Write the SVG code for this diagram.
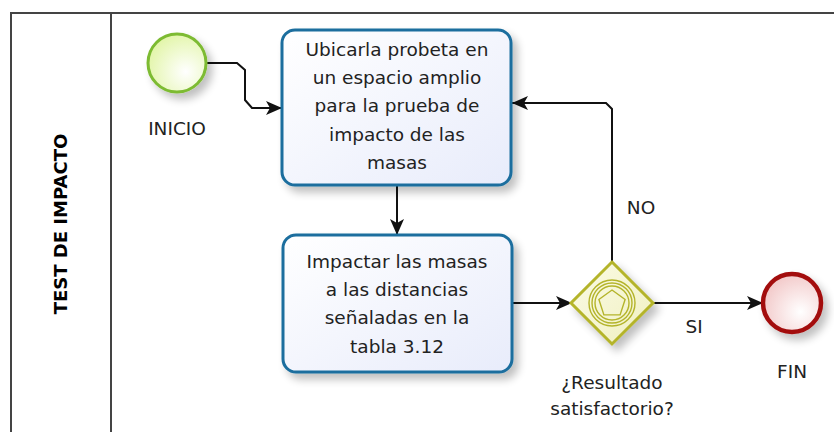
<svg xmlns="http://www.w3.org/2000/svg" width="834" height="432" viewBox="0 0 834 432">
<style>
text{font-family:"DejaVu Sans","Liberation Sans",sans-serif;fill:#222;}
.t{font-size:18.5px;text-anchor:middle;}
.lbl{font-size:18.5px;text-anchor:middle;}
.task{fill:url(#tg);stroke:#1b6e9e;stroke-width:3;}
.conn{fill:none;stroke:#111;stroke-width:2;}
.gw{fill:none;stroke:#b4b42a;stroke-width:1.4;}
</style>
<defs>
<linearGradient id="tg" x1="0" y1="0" x2="1" y2="1"><stop offset="0" stop-color="#ffffff"/><stop offset="1" stop-color="#e8ecfb"/></linearGradient>
<radialGradient id="sg" cx="0.65" cy="0.65" r="0.7"><stop offset="0" stop-color="#ffffff"/><stop offset="1" stop-color="#e2f5a8"/></radialGradient>
<radialGradient id="eg" cx="0.65" cy="0.65" r="0.7"><stop offset="0" stop-color="#ffffff"/><stop offset="1" stop-color="#f2c8c8"/></radialGradient>
<linearGradient id="gg" x1="0" y1="0" x2="1" y2="1"><stop offset="0" stop-color="#fbfbe6"/><stop offset="1" stop-color="#f0f0c0"/></linearGradient>
<filter id="sh" x="-20%" y="-20%" width="150%" height="150%"><feGaussianBlur in="SourceAlpha" stdDeviation="4"/><feOffset dx="5" dy="6"/><feComponentTransfer><feFuncA type="linear" slope="0.25"/></feComponentTransfer><feMerge><feMergeNode/><feMergeNode in="SourceGraphic"/></feMerge></filter>
<marker id="ar" viewBox="0 0 16 14" refX="16" refY="7" markerWidth="16" markerHeight="14" markerUnits="userSpaceOnUse" orient="auto"><path d="M0,0 L16,7 L0,14 L4,7 Z" fill="#111"/></marker>
</defs>
<g id="pool">
<path d="M11,432 L11,13 L834,13" fill="none" stroke="#444" stroke-width="2"/>
<line x1="111" y1="13" x2="111" y2="432" stroke="#444" stroke-width="2"/>
<text transform="translate(67,224) rotate(-90)" style="font-size:18px;font-weight:bold;text-anchor:middle;fill:#000">TEST DE IMPACTO</text>
</g>
<g id="connectors">
<path class="conn" d="M207,63 L237,63 L245,70 L245,100 L252,108 L282,108" marker-end="url(#ar)"/>
<path class="conn" d="M397,186 L397,235" marker-end="url(#ar)"/>
<path class="conn" d="M513,303 L572,303" marker-end="url(#ar)"/>
<path class="conn" d="M612,262 L612,109 L606,103 L512,103" marker-end="url(#ar)"/>
<path class="conn" d="M652,303 L763,303" marker-end="url(#ar)"/>
<text class="lbl" x="641" y="214">NO</text>
<text class="lbl" x="694" y="333">SI</text>
</g>
<g id="inicio">
<circle cx="177" cy="63" r="29" fill="url(#sg)" stroke="#7dbb32" stroke-width="3" filter="url(#sh)"/>
<text class="lbl" x="177" y="135">INICIO</text>
</g>
<g id="task1">
<rect class="task" x="282" y="30" width="229" height="155" rx="13" filter="url(#sh)"/>
<text class="t" x="397" y="56">Ubicarla probeta en</text>
<text class="t" x="397" y="84">un espacio amplio</text>
<text class="t" x="397" y="112">para la prueba de</text>
<text class="t" x="397" y="141">impacto de las</text>
<text class="t" x="397" y="169">masas</text>
</g>
<g id="task2">
<rect class="task" x="283" y="235" width="229" height="137" rx="13" filter="url(#sh)"/>
<text class="t" x="397" y="268">Impactar las masas</text>
<text class="t" x="397" y="296">a las distancias</text>
<text class="t" x="397" y="324">señaladas en la</text>
<text class="t" x="397" y="353">tabla 3.12</text>
</g>
<g id="gateway">
<path d="M612,262 L653,303 L612,344 L571,303 Z" fill="url(#gg)" stroke="#b4b42a" stroke-width="3" filter="url(#sh)"/>
<circle class="gw" cx="612" cy="303" r="23"/>
<circle class="gw" cx="612" cy="303" r="20"/>
<circle class="gw" cx="612" cy="303" r="17"/>
<path class="gw" d="M612,290 L625.1,299.5 L620.1,314.9 L603.9,314.9 L598.9,299.5 Z"/>
<text class="lbl" x="612" y="389">¿Resultado</text>
<text class="lbl" x="612" y="415">satisfactorio?</text>
</g>
<g id="fin">
<circle cx="792" cy="303" r="29" fill="url(#eg)" stroke="#a31010" stroke-width="4.5" filter="url(#sh)"/>
<text class="lbl" x="792" y="378">FIN</text>
</g>
</svg>
